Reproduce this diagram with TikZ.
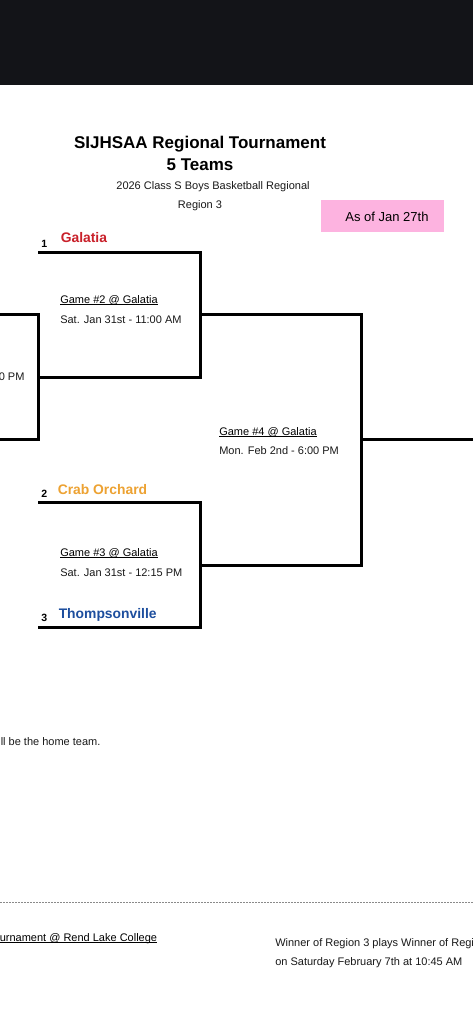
\documentclass[tikz,border=0pt]{standalone}
\usepackage{fontspec}
\setmainfont{Liberation Sans}
\definecolor{topbar}{HTML}{131418}
\definecolor{pinkbox}{HTML}{FDB3E0}
\definecolor{galred}{HTML}{C9202A}
\definecolor{craborange}{HTML}{EDA232}
\definecolor{thompblue}{HTML}{1D4E9E}
\definecolor{dashgray}{HTML}{8A8A8A}
\newcommand\myul[1]{\setbox0\hbox{#1}\rlap{\rule[-1.3pt]{\wd0}{0.6pt}}\box0}
\tikzset{
  bracket/.style={line width=2.25pt, line join=miter, black},
  body/.style={inner sep=0pt, anchor=base west, font=\fontsize{8.25pt}{10pt}\selectfont, text=black!90},
  titletxt/.style={inner sep=0pt, anchor=base, font=\fontsize{12.75pt}{15pt}\selectfont\bfseries},
  subtxt/.style={inner sep=0pt, anchor=base, font=\fontsize{8.25pt}{10pt}\selectfont, text=black!90},
  seednum/.style={inner sep=0pt, anchor=base west, font=\fontsize{7.9pt}{9pt}\selectfont\bfseries},
  team/.style={inner sep=0pt, anchor=base west, font=\fontsize{10.4pt}{12pt}\selectfont\bfseries},
  gamehead/.style={inner sep=0pt, anchor=base west, font=\fontsize{8.25pt}{10pt}\selectfont, text=black},
}
\begin{document}
\begin{tikzpicture}[x=0.75pt,y=-0.75pt]
\useasboundingbox (0,0) rectangle (473,1024);
\clip (0,0) rectangle (473,1024);
\fill[white] (0,0) rectangle (473,1024);
% top bar
\fill[topbar] (0,0) rectangle (473,85);
% titles
\node[titletxt] (title) at (200,148) {SIJHSAA Regional Tournament};
\node[titletxt] (teams) at (200,170) {5 Teams};
\node[subtxt] (sub) at (213,189) {2026 Class S Boys Basketball Regional};
\node[subtxt] (region) at (200,208) {Region 3};
% pink box
\node[fill=pinkbox, minimum width=92.25pt, minimum height=23.75pt, inner sep=0pt] (asofbox) at (382.5,216) {};
\node[inner sep=0pt, anchor=base, font=\fontsize{9.75pt}{12pt}\selectfont, text=black] (asof) at (387,221.5) {As of Jan 27th};
% team labels
\node[seednum] (s1) at (41,247) {1};
\node[team, text=galred] (galatia) at (60.5,242.5) {Galatia};
\node[seednum] (s2) at (41,497) {2};
\node[team, text=craborange] (crab) at (57.5,494) {Crab Orchard};
\node[seednum] (s3) at (41,621.5) {3};
\node[team, text=thompblue] (thomp) at (58.5,618.5) {Thompsonville};
% bracket coordinates
\coordinate (a1) at (38,252);  \coordinate (a2) at (200,252);
\coordinate (a3) at (200,377); \coordinate (a4) at (38,377);
\coordinate (l1) at (-5,314);  \coordinate (l2) at (38,314);
\coordinate (l3) at (38,439);  \coordinate (l4) at (-5,439);
\coordinate (b1) at (38,502);  \coordinate (b2) at (200,502);
\coordinate (b3) at (200,627); \coordinate (b4) at (38,627);
\coordinate (c1) at (200,314); \coordinate (c2) at (361,314);
\coordinate (c3) at (361,565); \coordinate (c4) at (200,565);
\coordinate (d1) at (361,439); \coordinate (d2) at (478,439);
\draw[bracket] (a1) -- (a2) -- (a3) -- (a4);
\draw[bracket] (l1) -- (l2) -- (l3) -- (l4);
\draw[bracket] (b1) -- (b2) -- (b3) -- (b4);
\draw[bracket] (c1) -- (c2) -- (c3) -- (c4);
\draw[bracket] (d1) -- (d2);
% game labels
\node[gamehead] (g2h) at (60,303) {\myul{Game \#2 @ Galatia}};
\node[body] (g2t) at (60,323) {Sat. Jan 31st - 11:00 AM};
\node[body] (g1t) at (-1.5,380) {0 PM};
\node[gamehead] (g4h) at (219,435) {\myul{Game \#4 @ Galatia}};
\node[body] (g4t) at (219,454) {Mon. Feb 2nd - 6:00 PM};
\node[gamehead] (g3h) at (60,556) {\myul{Game \#3 @ Galatia}};
\node[body] (g3t) at (60,576) {Sat. Jan 31st - 12:15 PM};
% notes
\node[body] (home) at (0.5,745.5) {ll be the home team.};
\coordinate (dl) at (0,902); \coordinate (dr) at (473,902);
\draw[dashgray, line width=0.75pt, dash pattern=on 1.5pt off 0.75pt] (dl) -- (dr);
\node[gamehead] (rend) at (-0.5,941) {\myul{urnament @ Rend Lake College}};
\node[body] (win1) at (275,946) {Winner of Region 3 plays Winner of Regi};
\node[body] (win2) at (275,965) {on Saturday February 7th at 10:45 AM};
\end{tikzpicture}
\end{document}
